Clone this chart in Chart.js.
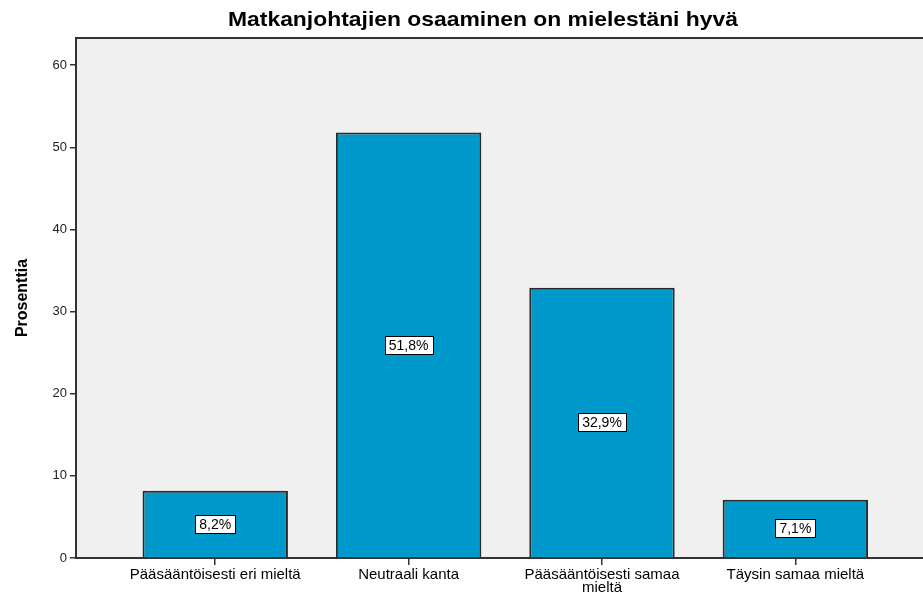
<!DOCTYPE html>
<html>
<head>
<meta charset="utf-8">
<script src="https://cdn.jsdelivr.net/npm/chart.js@4.4.1/dist/chart.umd.min.js"></script>
<style>
  html, body { margin: 0; padding: 0; background: #fff; }
  #wrap { width: 923px; height: 593px; }
</style>
</head>
<body>
<div id="wrap"><canvas id="kaavio"></canvas></div>
<script>
// data
var categories = ['Pääsääntöisesti eri mieltä', 'Neutraali kanta', 'Pääsääntöisesti samaa mieltä', 'Täysin samaa mieltä'];
var percents = [8.2, 51.8, 32.9, 7.1];
var xTickLabels = [['Pääsääntöisesti eri mieltä'], ['Neutraali kanta'], ['Pääsääntöisesti samaa', 'mieltä'], ['Täysin samaa mieltä']];
var yTicks = [0, 10, 20, 30, 40, 50, 60];
var chartTitle = 'Matkanjohtajien osaaminen on mielestäni hyvä';
var yTitle = 'Prosenttia';

var FONT = "'Liberation Sans', Arial, sans-serif";

var plotBg = {
    id: 'plotBg',
    beforeDraw: function (chart) {
        var a = chart.chartArea, c = chart.ctx;
        c.save();
        c.fillStyle = '#f0f0f0';
        c.fillRect(a.left, a.top, a.right - a.left, a.bottom - a.top);
        c.strokeStyle = '#333';
        c.lineWidth = 2;
        c.beginPath();
        c.moveTo(a.left, a.top);
        c.lineTo(a.right, a.top);
        c.stroke();
        c.restore();
    },
    afterDraw: function (chart) {
        // title, slightly widened like the original export
        var c = chart.ctx;
        c.save();
        c.font = 'bold 21px ' + FONT;
        var sx = 510 / c.measureText(chartTitle).width;
        c.translate(483, 20);
        c.scale(sx, 1);
        c.fillStyle = '#000';
        c.textAlign = 'center';
        c.textBaseline = 'middle';
        c.fillText(chartTitle, 0, 0);
        c.restore();
    }
};

var valueBoxes = {
    id: 'valueBoxes',
    afterDatasetsDraw: function (chart) {
        var c = chart.ctx;
        var meta = chart.getDatasetMeta(0);
        c.save();
        c.font = '14px ' + FONT;
        c.textAlign = 'center';
        c.textBaseline = 'middle';
        meta.data.forEach(function (bar, i) {
            var txt = percents[i].toFixed(1).replace('.', ',') + '%';
            var cy = Math.round((bar.y + bar.base) / 2);
            var w = Math.round(c.measureText(txt).width + 8);
            var h = 18;
            var x0 = Math.round(bar.x - w / 2) + 0.5, y0 = cy - h / 2 + 0.5;
            c.fillStyle = '#fff';
            c.fillRect(x0, y0, w, h);
            c.strokeStyle = '#000';
            c.lineWidth = 1;
            c.strokeRect(x0, y0, w, h);
            c.fillStyle = '#000';
            c.fillText(txt, bar.x, cy + 1);
        });
        c.restore();
    }
};

var ctx = document.getElementById('kaavio').getContext('2d');
var myChart = new Chart(ctx, {
    type: 'bar',
    data: {
        datasets: [{
            label: yTitle,
            data: percents.map(function (v, i) { return { x: i, y: v }; }),
            backgroundColor: '#0099cc',
            borderColor: '#2a2a2a',
            borderWidth: 2,
            categoryPercentage: 0.8,
            barPercentage: 0.94
        }]
    },
    options: {
        responsive: true,
        maintainAspectRatio: false,
        animation: false,
        layout: { padding: { top: 38, right: 0, left: 0, bottom: 0 } },
        plugins: {
            legend: { display: false },
            tooltip: { enabled: false }
        },
        scales: {
            x: {
                type: 'linear',
                offset: false,
                min: -0.72,
                max: 3.66,
                afterBuildTicks: function (s) {
                    s.ticks = categories.map(function (_, i) { return { value: i }; });
                },
                afterFit: function (s) { s.height = 35; },
                grid: { offset: false, drawOnChartArea: false, drawTicks: true, tickLength: 7, color: '#333', lineWidth: 1.5 },
                border: { color: '#333', width: 2 },
                ticks: {
                    autoSkip: false,
                    maxRotation: 0,
                    padding: 3,
                    color: '#000',
                    font: { family: FONT, size: 15, lineHeight: 0.9 },
                    callback: function (v) { return xTickLabels[v]; }
                }
            },
            y: {
                min: 0,
                max: 63.3,
                afterBuildTicks: function (s) {
                    s.ticks = yTicks.map(function (v) { return { value: v }; });
                },
                afterFit: function (s) { s.width = 76; },
                grid: { drawOnChartArea: false, drawTicks: true, tickLength: 6, color: '#333', lineWidth: 1.5 },
                border: { color: '#333', width: 2 },
                ticks: {
                    padding: 3,
                    color: '#222',
                    font: { family: FONT, size: 13 }
                },
                title: {
                    display: true,
                    text: yTitle,
                    color: '#000',
                    padding: { top: 13, bottom: 0 },
                    font: { family: FONT, size: 16, weight: 'bold' }
                }
            }
        }
    },
    plugins: [plotBg, valueBoxes]
});
</script>
</body>
</html>
